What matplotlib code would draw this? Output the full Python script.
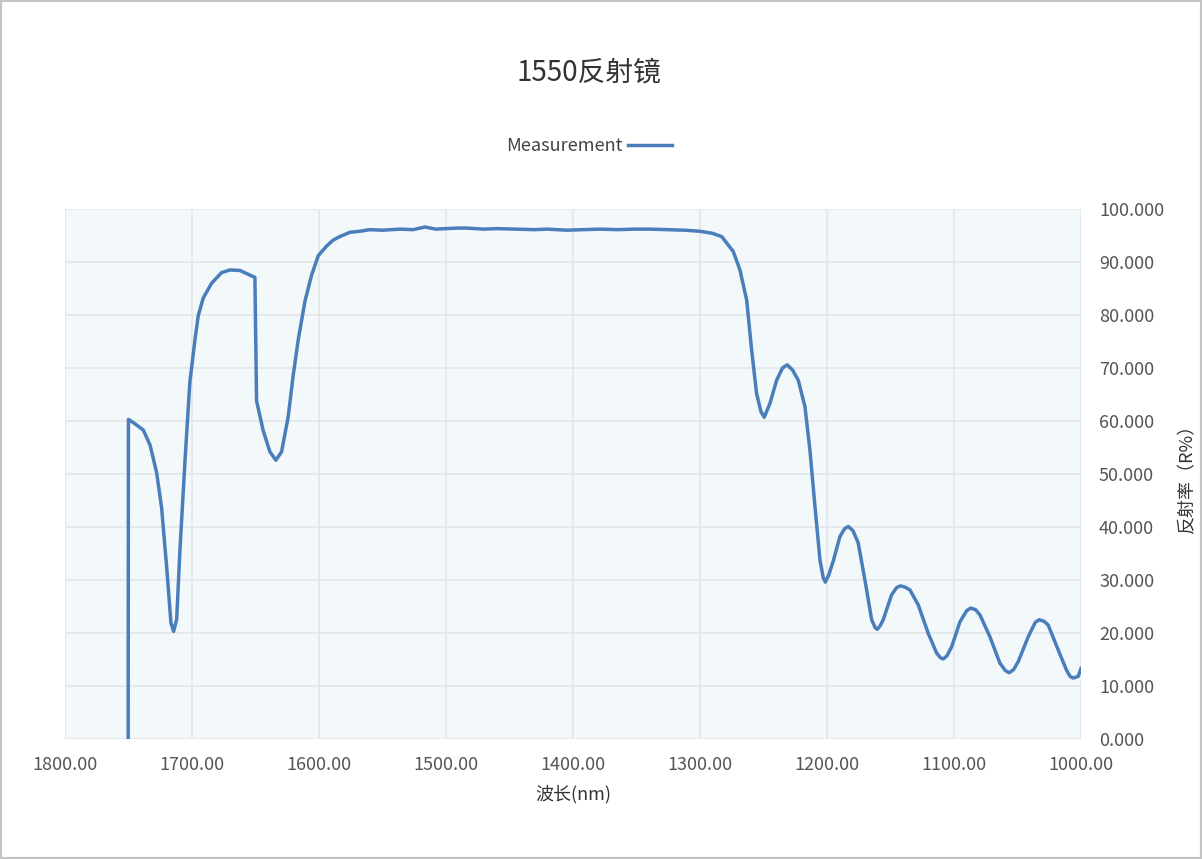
import matplotlib
matplotlib.use("Agg")
import matplotlib.pyplot as plt
from matplotlib.patches import Rectangle

plt.rcParams['font.family'] = ['Noto Sans CJK SC', 'DejaVu Sans']

# wavelength (nm) and reflectance (%)
wavelength = [
    1750.2, 1750.0, 1745.0, 1738.3, 1733.0, 1727.8, 1723.9, 1719.9, 1716.5,
    1714.4, 1712.0, 1709.4, 1705.5, 1701.6, 1697.6, 1695.0, 1691.1, 1684.5,
    1676.6, 1670.0, 1662.2, 1650.4, 1649.1, 1643.9, 1638.6, 1633.9, 1629.4,
    1624.2, 1620.2, 1616.3, 1611.0, 1605.8, 1600.5, 1594.0, 1589.0, 1583.5,
    1575.6, 1567.7, 1560.0, 1550.0, 1536.0, 1526.0, 1516.5, 1508.0, 1500.0,
    1490.0, 1483.7, 1470.0, 1460.0, 1444.3, 1430.0, 1420.0, 1405.0, 1392.0,
    1378.8, 1365.0, 1352.0, 1339.4, 1325.0, 1312.0, 1300.0, 1290.0, 1282.9,
    1273.8, 1268.5, 1263.2, 1259.3, 1255.4, 1252.0, 1249.4, 1244.9, 1239.6,
    1235.0, 1231.3, 1227.0, 1222.6, 1217.3, 1213.4, 1209.4, 1205.5, 1203.0,
    1201.3, 1198.5, 1195.0, 1189.8, 1186.0, 1183.2, 1179.5, 1175.4, 1170.1,
    1164.8, 1162.0, 1160.4, 1158.0, 1155.7, 1149.1, 1145.0, 1142.0, 1138.0,
    1134.6, 1128.1, 1120.2, 1113.6, 1110.5, 1108.4, 1105.5, 1101.8, 1095.3,
    1090.0, 1086.9, 1083.0, 1079.5, 1071.7, 1063.8, 1059.5, 1056.5, 1053.0,
    1049.4, 1041.5, 1036.0, 1032.9, 1029.0, 1025.8, 1017.9, 1011.4, 1008.5,
    1006.1, 1002.2, 1000.0,
]
reflectance = [
    0.0, 60.3, 59.5, 58.3, 55.5, 50.3, 43.7, 32.5, 21.9,
    20.3, 22.6, 35.8, 52.3, 67.4, 75.3, 79.9, 83.2, 86.0,
    88.0, 88.5, 88.4, 87.1, 63.8, 58.2, 54.2, 52.6, 54.2,
    60.8, 68.7, 75.3, 82.6, 87.5, 91.2, 93.0, 94.1, 94.8,
    95.6, 95.8, 96.1, 96.0, 96.2, 96.1, 96.6, 96.2, 96.3,
    96.4, 96.4, 96.2, 96.3, 96.2, 96.1, 96.2, 96.0, 96.1,
    96.2, 96.1, 96.2, 96.2, 96.1, 96.0, 95.8, 95.4, 94.8,
    92.0, 88.5, 82.8, 73.4, 65.2, 61.8, 60.7, 63.3, 67.7,
    70.0, 70.6, 69.6, 67.7, 62.7, 54.5, 43.8, 33.8, 30.5,
    29.6, 31.0, 33.6, 38.2, 39.7, 40.1, 39.3, 37.0, 30.0,
    22.5, 21.0, 20.7, 21.4, 22.5, 27.2, 28.6, 28.9, 28.6,
    28.1, 25.3, 19.9, 16.2, 15.3, 15.1, 15.7, 17.4, 22.1,
    24.2, 24.7, 24.4, 23.4, 19.3, 14.3, 12.9, 12.5, 13.1,
    14.6, 19.3, 22.0, 22.5, 22.2, 21.5, 16.8, 13.0, 11.8,
    11.5, 11.8, 13.3,
]

x_ticks = [1000, 1100, 1200, 1300, 1400, 1500, 1600, 1700, 1800]
y_ticks = [0, 10, 20, 30, 40, 50, 60, 70, 80, 90, 100]

text_color = "#333333"
tick_color = "#555555"
line_color = "#4a7ebb"

fig = plt.figure(figsize=(12.02, 8.59), dpi=100)
ax = fig.add_axes([0.054, 0.1397, 0.8453, 0.617])
ax.set_facecolor("#f3f8fb")

ax.plot(wavelength, reflectance, color=line_color, lw=2.5, label="Measurement",
        solid_joinstyle="round")

ax.set_xlim(1800, 1000)
ax.set_ylim(0, 100)
ax.set_xticks(x_ticks)
ax.set_xticklabels([f"{v:.2f}" for v in x_ticks])
ax.set_yticks(y_ticks)
ax.set_yticklabels([f"{v:.3f}" for v in y_ticks])
ax.yaxis.tick_right()
ax.yaxis.set_label_position("right")
ax.tick_params(axis="both", length=0, labelsize=13, colors=tick_color)
ax.tick_params(axis="x", pad=12)
ax.tick_params(axis="y", pad=13)
ax.grid(True, color="#e3e6e9", lw=1.2)
ax.set_axisbelow(True)
for s in ax.spines.values():
    s.set_visible(False)

ax.set_xlabel("波长(nm)", fontsize=13, color=text_color, labelpad=8)
ax.set_ylabel("反射率（R%）", fontsize=13, color=text_color, labelpad=10)

fig.text(0.49, 0.915, "1550反射镜", ha="center", va="center", fontsize=20,
         color=text_color)

leg = ax.legend(loc="center", bbox_to_anchor=(0.49, 0.83),
                bbox_transform=fig.transFigure, frameon=False, markerfirst=False,
                fontsize=13, handlelength=2.4, handletextpad=0.3)
for t in leg.get_texts():
    t.set_color("#444444")

fig.patches.append(Rectangle((0, 0), 1, 1, transform=fig.transFigure,
                             fill=False, edgecolor="#c4c4c4", lw=3))

fig.savefig("out.png", dpi=100)
plt.close(fig)
